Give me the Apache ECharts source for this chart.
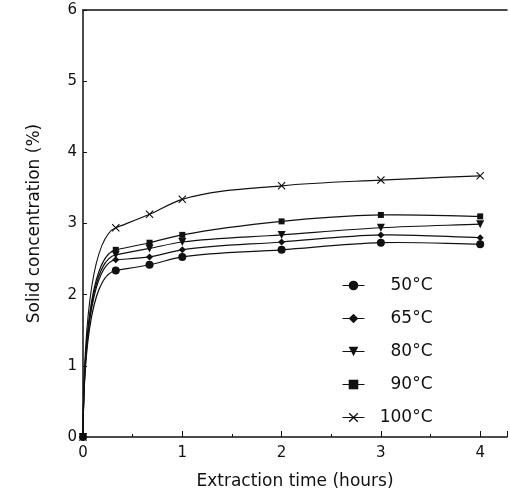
<!DOCTYPE html>
<html>
<head>
<meta charset="utf-8">
<script src="https://cdn.jsdelivr.net/npm/echarts@6/dist/echarts.min.js"></script>
<style>
  html, body { margin: 0; padding: 0; background: #fff; }
  #chart { width: 510px; height: 495px; }
</style>
</head>
<body>
<div id="chart"></div>
<script>
// Extraction time (hours) at which samples were taken
const times = [0, 0.33, 0.67, 1, 2, 3, 4];

// Solid concentration (%) for each extraction temperature
const conc50 = [0, 2.34, 2.42, 2.53, 2.63, 2.73, 2.71];
const conc65 = [0, 2.49, 2.53, 2.63, 2.74, 2.84, 2.80];
const conc80 = [0, 2.56, 2.65, 2.74, 2.84, 2.94, 2.99];
const conc90 = [0, 2.63, 2.73, 2.84, 3.03, 3.12, 3.10];
const conc100 = [0, 2.94, 3.13, 3.34, 3.53, 3.61, 3.67];

const seriesNames = ['50°C', '65°C', '80°C', '90°C', '100°C'];
const seriesValues = [conc50, conc65, conc80, conc90, conc100];

const yTicks = [0, 1, 2, 3, 4, 5, 6];
const xTicks = [0, 1, 2, 3, 4];

const INK = '#111';
const FONT = '"DejaVu Sans", "Liberation Sans", Arial, sans-serif';
const crossPath = 'path://M0,1L1,0L5,4L9,0L10,1L6,5L10,9L9,10L5,6L1,10L0,9L4,5Z';

const markers = [
  { symbol: 'circle', size: 8, rotate: 0 },
  { symbol: 'diamond', size: 7, rotate: 0 },
  { symbol: 'triangle', size: 8, rotate: 180 },
  { symbol: 'rect', size: 6, rotate: 0 },
  { symbol: crossPath, size: 8, rotate: 0 }
];

// Smooth curve through the points: steep rise from the origin, then a
// monotone Hermite spline through the remaining samples.
function curvePath(api, vals) {
  const p = times.map((t, i) => api.coord([t, vals[i]]));
  const n = p.length;
  const sec = [];
  for (let i = 0; i < n - 1; i++) {
    sec.push((p[i + 1][1] - p[i][1]) / (p[i + 1][0] - p[i][0]));
  }
  const m = [];
  m[1] = sec[1];
  for (let i = 2; i < n - 1; i++) m[i] = (sec[i - 1] + sec[i]) / 2;
  m[n - 1] = sec[n - 2];

  const h0 = p[1][0] - p[0][0];
  let d = 'M' + p[0][0] + ',' + p[0][1];
  d += ' C' + (p[0][0] + 0.03 * h0) + ',' + (p[0][1] + 0.8 * (p[1][1] - p[0][1])) +
       ' ' + (p[1][0] - 0.45 * h0) + ',' + (p[1][1] - m[1] * 0.45 * h0) +
       ' ' + p[1][0] + ',' + p[1][1];
  for (let i = 1; i < n - 1; i++) {
    const h = p[i + 1][0] - p[i][0];
    d += ' C' + (p[i][0] + h / 3) + ',' + (p[i][1] + m[i] * h / 3) +
         ' ' + (p[i + 1][0] - h / 3) + ',' + (p[i + 1][1] - m[i + 1] * h / 3) +
         ' ' + p[i + 1][0] + ',' + p[i + 1][1];
  }
  return d;
}

const series = seriesNames.map((name, k) => ({
  name: name,
  type: 'line',
  data: times.map((t, i) => [t, seriesValues[k][i]]),
  symbol: markers[k].symbol,
  symbolSize: markers[k].size,
  symbolRotate: markers[k].rotate,
  showAllSymbol: true,
  itemStyle: { color: INK },
  lineStyle: { opacity: 0 },
  z: 3
}));

series.push({
  name: 'curves',
  type: 'custom',
  data: seriesNames.map((n, k) => [0, 0, k]),
  encode: { x: 0, y: 1 },
  silent: true,
  z: 2,
  renderItem: function (params, api) {
    const k = params.dataIndex;
    return {
      type: 'path',
      shape: { pathData: curvePath(api, seriesValues[k]) },
      style: { fill: 'none', stroke: INK, lineWidth: 1.2 }
    };
  }
});

const chart = echarts.init(document.getElementById('chart'), null, { renderer: 'canvas' });
chart.setOption({
  backgroundColor: '#fff',
  animation: false,
  textStyle: { fontFamily: FONT, color: INK },
  grid: { left: 83, right: 0, top: 10, bottom: 55 },
  legend: {
    data: seriesNames,
    orient: 'vertical',
    left: 337,
    top: 272,
    itemWidth: 22,
    itemHeight: 12,
    itemGap: 16,
    selectedMode: false,
    lineStyle: { opacity: 1, width: 1, color: INK },
    itemStyle: { color: INK },
    formatter: '{n|{name}}',
    textStyle: {
      color: INK,
      fontFamily: FONT,
      fontSize: 17,
      rich: { n: { width: 63, align: 'right', fontSize: 17, lineHeight: 17, height: 17, fontFamily: FONT, color: INK } }
    }
  },
  xAxis: [{
    type: 'value',
    min: 0,
    max: 4.27,
    interval: 1,
    name: 'Extraction time (hours)',
    nameLocation: 'middle',
    nameGap: 36,
    nameTextStyle: { fontSize: 17, fontFamily: FONT, color: INK },
    axisLine: { onZero: false, lineStyle: { color: INK, width: 1.5 } },
    axisTick: { inside: true, length: 6, lineStyle: { color: INK } },
    minorTick: { show: true, splitNumber: 2, length: 3, lineStyle: { color: INK } },
    axisLabel: {
      margin: 9, fontSize: 15, color: INK, fontFamily: FONT,
      formatter: v => (xTicks.indexOf(v) >= 0 ? String(v) : '')
    },
    splitLine: { show: false }
  }, {
    type: 'value',
    position: 'top',
    min: 0,
    max: 1,
    axisLine: { show: true, onZero: false, lineStyle: { color: INK, width: 1.5 } },
    axisTick: { show: false },
    axisLabel: { show: false },
    splitLine: { show: false }
  }],
  yAxis: {
    type: 'value',
    min: 0,
    max: 6,
    interval: 1,
    name: 'Solid concentration (%)',
    nameLocation: 'middle',
    nameGap: 40,
    nameTextStyle: { fontSize: 17, fontFamily: FONT, color: INK },
    axisLine: { show: true, onZero: false, lineStyle: { color: INK, width: 1.5 } },
    axisTick: { show: true, inside: true, length: 4, lineStyle: { color: INK } },
    axisLabel: {
      margin: 6, fontSize: 15, color: INK, fontFamily: FONT,
      formatter: v => (yTicks.indexOf(v) >= 0 ? String(v) : '')
    },
    splitLine: { show: false }
  },
  series: series
});
</script>
</body>
</html>
